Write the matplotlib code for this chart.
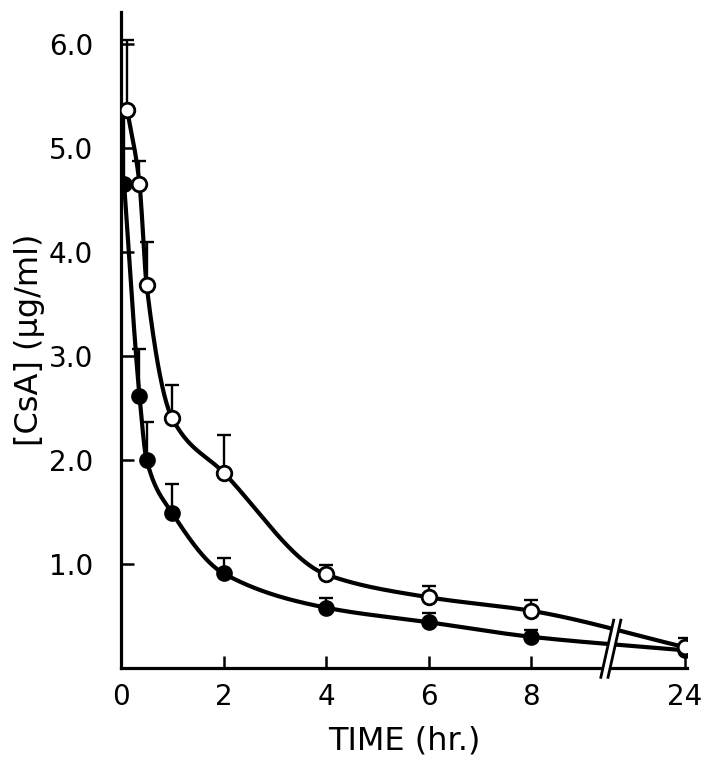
import numpy as np
import matplotlib
matplotlib.use("Agg")
import matplotlib.pyplot as plt

# ---- data ----
open_t = [0.12, 0.36, 0.5, 1.0, 2.0, 4.0, 6.0, 8.0, 24.0]
open_y = [5.37, 4.66, 3.68, 2.40, 1.88, 0.90, 0.68, 0.55, 0.20]
open_up = [6.04, 4.88, 4.10, 2.72, 2.24, 0.99, 0.79, 0.65, 0.29]

closed_t = [0.06, 0.36, 0.5, 1.0, 2.0, 4.0, 6.0, 8.0, 24.0]
closed_y = [4.66, 2.62, 2.00, 1.49, 0.91, 0.58, 0.44, 0.30, 0.17]
closed_up = [5.30, 3.07, 2.37, 1.77, 1.06, 0.67, 0.53, 0.37, 0.17]

x_ticks = [0, 2, 4, 6, 8, 24]
x_ticklabels = ["0", "2", "4", "6", "8", "24"]
y_ticks = [1, 2, 3, 4, 5, 6]
y_ticklabels = ["1.0", "2.0", "3.0", "4.0", "5.0", "6.0"]

# ---- broken time axis: 0..8 linear, 24 placed after a break ----
POS24 = 11.0
BREAK = 9.62


def tpos(t):
    t = np.asarray(t, dtype=float)
    return np.where(t <= 8, t, 8 + (t - 8) / 16.0 * (POS24 - 8))


def pchip(x, y, xn):
    x = np.asarray(x, float); y = np.asarray(y, float)
    h = np.diff(x); d = np.diff(y) / h
    n = len(x); m = np.zeros(n)
    for k in range(1, n - 1):
        if d[k - 1] * d[k] > 0:
            w1 = 2 * h[k] + h[k - 1]; w2 = h[k] + 2 * h[k - 1]
            m[k] = (w1 + w2) / (w1 / d[k - 1] + w2 / d[k])
    m[0] = d[0]; m[-1] = d[-1]
    idx = np.clip(np.searchsorted(x, xn) - 1, 0, n - 2)
    hh = h[idx]; s = (xn - x[idx]) / hh
    h00 = 2 * s**3 - 3 * s**2 + 1; h10 = s**3 - 2 * s**2 + s
    h01 = -2 * s**3 + 3 * s**2; h11 = s**3 - s**2
    return h00 * y[idx] + h10 * hh * m[idx] + h01 * y[idx + 1] + h11 * hh * m[idx + 1]


fig = plt.figure(figsize=(7.13, 7.62), dpi=100)
ax = fig.add_axes([0.1697, 0.1234, 0.7938, 0.8609])
ax.set_xlim(0, 11.04)
ax.set_ylim(0, 6.31)

LW = 3.0
for t, y in ((open_t, open_y), (closed_t, closed_y)):
    px = tpos(t)
    xs = np.linspace(px[0], px[-1], 800)
    ys = pchip(px, y, xs)
    ax.plot(xs, ys, color="black", lw=LW, solid_capstyle="butt", zorder=2)

# error bars (upper only)
for t, y, up in ((open_t, open_y, open_up), (closed_t, closed_y, closed_up)):
    px = tpos(t)
    err = np.array(up) - np.array(y)
    ax.errorbar(px, y, yerr=[np.zeros_like(err), err], fmt="none",
                ecolor="black", elinewidth=1.7, capsize=5, capthick=1.7, zorder=3)

ax.plot(tpos(closed_t), closed_y, "o", ms=10.5, mfc="black", mec="black", mew=1.5, zorder=4)
ax.plot(tpos(open_t), open_y, "o", ms=10.5, mfc="white", mec="black", mew=2.0, zorder=5)

# break marks
gap_poly = plt.Polygon([[BREAK - 0.02, 0.47], [BREAK - 0.27, -0.1],
                        [BREAK - 0.11, -0.1], [BREAK + 0.14, 0.47]],
                       closed=True, fc="white", ec="none", zorder=6, clip_on=False)
ax.add_patch(gap_poly)
for dx in (0.0, 0.14):
    ax.plot([BREAK - 0.01 + dx, BREAK - 0.26 + dx], [0.46, -0.09], color="black",
            lw=2.0, zorder=7, clip_on=False)

# axes styling
for s in ("top", "right"):
    ax.spines[s].set_visible(False)
for s in ("left", "bottom"):
    ax.spines[s].set_linewidth(2.3)

ax.set_xticks(tpos(x_ticks))
ax.set_xticklabels(x_ticklabels)
ax.set_yticks(y_ticks)
ax.set_yticklabels(y_ticklabels)
ax.tick_params(axis="both", direction="in", length=9, width=1.8, labelsize=20)
ax.tick_params(axis="x", pad=11)
ax.tick_params(axis="y", pad=20)

ax.set_xlabel("TIME (hr.)", fontsize=23, labelpad=10)
ax.set_ylabel("[CsA] (μg/ml)", fontsize=23, labelpad=3)

fig.savefig("out.png", dpi=100)
